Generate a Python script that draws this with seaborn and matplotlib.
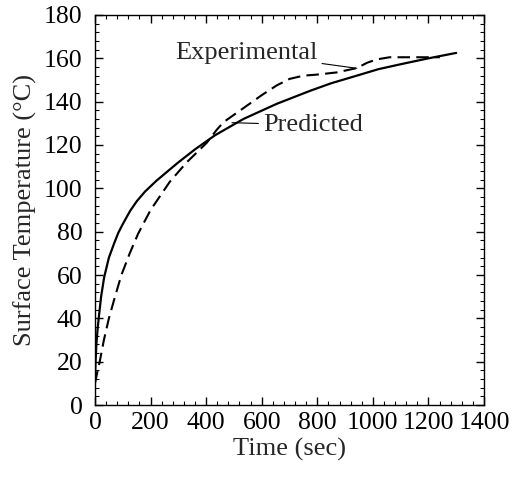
import matplotlib
matplotlib.use("Agg")
import matplotlib.pyplot as plt
from matplotlib.ticker import MultipleLocator
import seaborn as sns
import pandas as pd

# Predicted (solid)
pred_t = [0, 2, 5, 10, 15, 22, 33, 50, 60, 70, 84, 100, 126, 150, 180, 221, 300, 360, 432, 534, 654, 774, 850, 942, 1020, 1108, 1200, 1300]
pred_y = [12, 20, 28, 36, 42, 50, 59, 68, 71.5, 75, 79.5, 83.5, 89.5, 94, 98.5, 103.5, 112, 118, 124.5, 132, 139, 145, 148.5, 152, 155, 157.5, 160, 162.5]

# Experimental (dashed)
exp_t = [0, 8, 17, 32, 50, 72, 95, 125, 155, 200, 269, 330, 402, 438, 462, 534, 600, 654, 700, 750, 800, 870, 942, 980, 1014, 1060, 1241]
exp_y = [10, 15, 20, 30, 40, 50, 60, 70, 79, 90, 103, 112, 121, 127, 130.5, 137, 143, 147.5, 150.5, 152, 152.5, 153.5, 155.5, 158, 159.5, 160.5, 160.5]

x_ticks = [0, 200, 400, 600, 800, 1000, 1200, 1400]
y_ticks = [0, 20, 40, 60, 80, 100, 120, 140, 160, 180]

sns.set_style("ticks")
plt.rcParams['font.family'] = ['Liberation Serif', 'DejaVu Serif']

fig = plt.figure(figsize=(5.12, 4.83), dpi=100)
ax = fig.add_axes([95/512, 1-405/483, (484-95)/512, (405-15)/483])

df_pred = pd.DataFrame({"t": pred_t, "y": pred_y})
df_exp = pd.DataFrame({"t": exp_t, "y": exp_y})
sns.lineplot(data=df_pred, x="t", y="y", ax=ax, color="black", lw=1.6, estimator=None, sort=False)
sns.lineplot(data=df_exp, x="t", y="y", ax=ax, color="black", lw=1.5, estimator=None, sort=False)
ax.lines[1].set_dashes([6, 3])

ax.set_xlim(0, 1400)
ax.set_ylim(0, 180)
ax.set_xticks(x_ticks)
ax.set_yticks(y_ticks)
ax.xaxis.set_minor_locator(MultipleLocator(40))
ax.yaxis.set_minor_locator(MultipleLocator(4))
ax.tick_params(which="both", direction="in", top=True, right=True, labelsize=18.5, colors="black")
ax.tick_params(which="major", length=6, width=1)
ax.tick_params(which="minor", length=3, width=0.8)
ax.tick_params(axis="x", which="major", pad=5)
ax.tick_params(axis="y", which="major", pad=9)
for s in ax.spines.values():
    s.set_linewidth(1.0)
    s.set_color("black")
ax.set_xlabel("Time (sec)", fontsize=19, labelpad=3)
ax.set_ylabel("Surface Temperature (°C)", fontsize=19, labelpad=5)

ax.annotate("Experimental", xy=(942, 155.4), xytext=(288, 162.4), fontsize=19,
            va="center", ha="left",
            arrowprops=dict(arrowstyle="-", lw=0.8, color="black", shrinkA=1, shrinkB=0))
ax.annotate("Predicted", xy=(493, 130.3), xytext=(605, 129.2), fontsize=19,
            va="center", ha="left",
            arrowprops=dict(arrowstyle="-", lw=0.8, color="black", shrinkA=1, shrinkB=0))

fig.savefig("out.png", dpi=100)
